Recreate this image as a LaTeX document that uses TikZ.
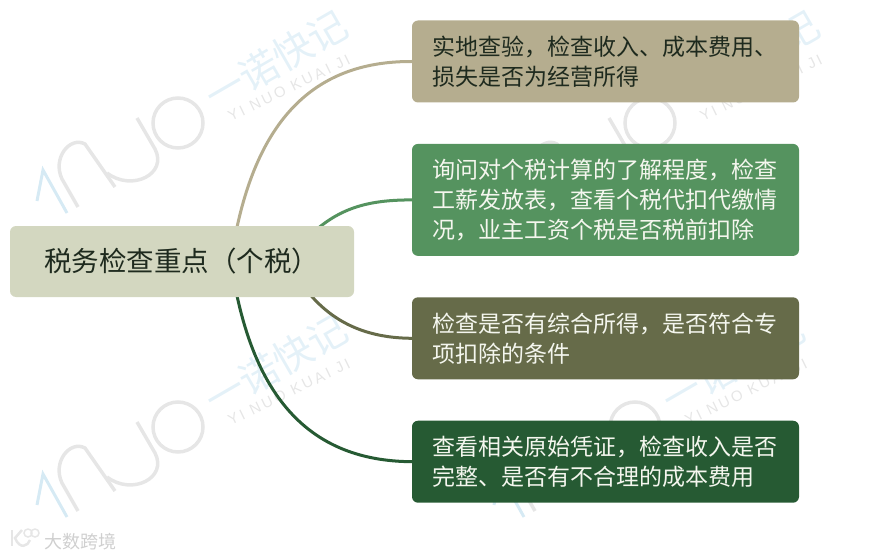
\documentclass[tikz,border=0pt]{standalone}
\usepackage{fontspec}
\usetikzlibrary{backgrounds,positioning}
\setmainfont{Noto Sans CJK SC}
\newfontfamily\latinmark[LetterSpace=18]{Liberation Sans}
\definecolor{rootfill}{HTML}{D3D7C0}
\definecolor{sandfill}{HTML}{B5AD8F}
\definecolor{greenfill}{HTML}{55935F}
\definecolor{olivefill}{HTML}{666B49}
\definecolor{darkfill}{HTML}{265A33}
\definecolor{inkdark}{HTML}{1E2A1E}
\definecolor{inklight}{HTML}{F4F6EE}
\definecolor{markblue}{HTML}{D6EAF4}
\definecolor{marksoft}{HTML}{E4F1F8}
\definecolor{markgray}{HTML}{E6E6E6}
\tikzset{
  topic/.style={rounded corners=6pt,minimum width=387pt,inner xsep=20pt,inner ysep=0pt,
    text width=347pt,align=left,font=\fontsize{23}{30}\selectfont},
  branch/.style={line width=3pt,line cap=round},
  bluestroke/.style={draw=markblue,line width=3pt},
  graystroke/.style={draw=markgray,line width=3.5pt}
}
% one watermark, shifted from its lower left place
\newcommand{\inkmark}[3]{
  \begin{scope}[shift={(#1,#2)}]
    \draw[bluestroke] (37,505)--(43,474)--(67,517);
    \draw[graystroke] (78,511)--(62,483) .. controls (52,462) and (70,440) .. (85,448)--(115,491);
    \draw[graystroke] (137,422)--(155,453) .. controls (168,478) and (132,496) .. (107,477);
    \draw[graystroke] (178,427) circle (25);
    \node[rotate=30,text=marksoft,font=\fontsize{39}{39}\selectfont] (cn#3) at (276,364) {一诺快记};
    \node[rotate=26,text=markgray,font=\fontsize{15}{15}\latinmark] (en#3) at (289,392) {YI NUO KUAI JI};
  \end{scope}
}
\begin{document}
\begin{tikzpicture}[x=1pt,y=-1pt,node distance=41pt]
  \useasboundingbox (0,0) rectangle (886,559);
  \node[topic,fill=sandfill,text=inkdark,minimum height=82pt] (check) at (605.5,61.5)
    {实地查验，检查收入、成本费用、\\损失是否为经营所得};
  \node[topic,fill=greenfill,text=inklight,minimum height=112pt,below=of check] (wage)
    {询问对个税计算的了解程度，检查\\工薪发放表，查看个税代扣代缴情\\况，业主工资个税是否税前扣除};
  \node[topic,fill=olivefill,text=inklight,minimum height=82pt,below=of wage] (income)
    {检查是否有综合所得，是否符合专\\项扣除的条件};
  \node[topic,fill=darkfill,text=inklight,minimum height=82pt,below=of income] (voucher)
    {查看相关原始凭证，检查收入是否\\完整、是否有不合理的成本费用};
  \node[fill=rootfill,text=inkdark,rounded corners=6pt,minimum width=344pt,minimum height=71pt,
        inner xsep=34pt,text width=276pt,align=left,font=\fontsize{27.5}{32}\selectfont] (root) at (182,261.5)
    {税务检查重点（个税）};
  \coordinate (rootA) at (236,232);
  \coordinate (rootB) at (316,230);
  \coordinate (rootC) at (308,292);
  \coordinate (rootD) at (236,291);
  \begin{scope}[on background layer]
    \inkmark{0}{-304}{a}
    \inkmark{472}{-304}{b}
    \inkmark{0}{0}{c}
    \inkmark{457}{0}{d}
    \draw[branch,draw=sandfill] (rootA) .. controls (258,125) and (310,61) .. (check.west);
    \draw[branch,draw=greenfill] (rootB) .. controls (345,205) and (375,200) .. (wage.west);
    \draw[branch,draw=olivefill] (rootC) .. controls (335,325) and (370,338) .. (income.west);
    \draw[branch,draw=darkfill] (rootD) .. controls (258,398) and (310,461) .. (voucher.west);
  \end{scope}
  % corner logo
  \draw[draw=markgray,line width=2.5pt] (12,530)--(12,546);
  \draw[draw=markgray,line width=2.5pt] (22,530)--(15,538) .. controls (20,550) and (28,546) .. (30,540);
  \draw[draw=markgray,line width=1.5pt] (28,533) circle (4);
  \draw[draw=markgray,line width=1.5pt] (35,533) circle (4);
  \node[text=markgray!90!black,font=\fontsize{18}{18}\selectfont] (logo) at (80,542) {大数跨境};
\end{tikzpicture}
\end{document}
